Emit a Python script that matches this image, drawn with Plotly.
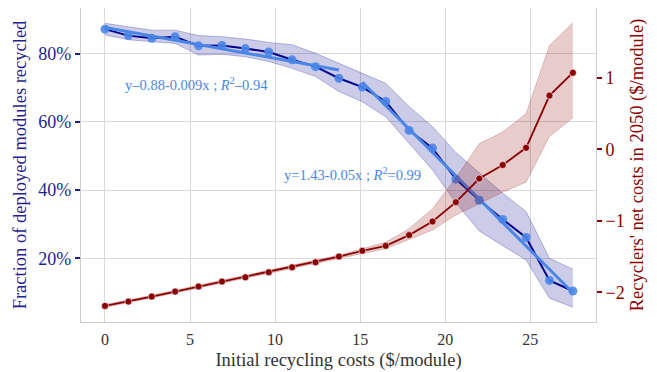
import numpy as np
import plotly.graph_objects as go

# ---------------- data ----------------
init_cost = [0.0, 1.375, 2.75, 4.125, 5.5, 6.875, 8.25, 9.625, 11.0, 12.375, 13.75,
             15.125, 16.5, 17.875, 19.25, 20.625, 22.0, 23.375, 24.75, 26.125, 27.5]

frac_mean = [0.872, 0.853, 0.845, 0.850, 0.823, 0.824, 0.815, 0.805, 0.782, 0.762, 0.728,
             0.702, 0.660, 0.575, 0.523, 0.432, 0.370, 0.314, 0.261, 0.135, 0.104]
frac_low = [0.855, 0.841, 0.835, 0.830, 0.796, 0.798, 0.791, 0.777, 0.757, 0.733, 0.689,
            0.659, 0.615, 0.537, 0.459, 0.363, 0.280, 0.237, 0.195, 0.083, 0.056]
frac_high = [0.889, 0.879, 0.869, 0.869, 0.853, 0.850, 0.843, 0.833, 0.826, 0.801, 0.772,
             0.743, 0.713, 0.645, 0.586, 0.510, 0.449, 0.391, 0.337, 0.200, 0.168]

net_mean = [-2.19, -2.13, -2.06, -1.99, -1.92, -1.85, -1.79, -1.72, -1.65, -1.58, -1.50,
            -1.42, -1.35, -1.20, -1.01, -0.74, -0.41, -0.22, 0.02, 0.75, 1.07]
net_low = [-2.21, -2.15, -2.08, -2.01, -1.94, -1.87, -1.81, -1.74, -1.67, -1.60, -1.53,
           -1.46, -1.39, -1.26, -1.13, -0.92, -0.76, -0.60, -0.46, 0.18, 0.44]
net_high = [-2.17, -2.11, -2.04, -1.97, -1.90, -1.83, -1.77, -1.70, -1.63, -1.56, -1.48,
            -1.39, -1.30, -1.11, -0.83, -0.40, 0.08, 0.24, 0.50, 1.45, 1.77]

# segments used for the two linear fits (index ranges)
fit_segments = [(0, 11), (11, 21)]
fit_labels = ["y\u20130.88-0.009x ; <i>R</i><sup>2</sup>\u20130.94",
              "y=1.43-0.05x ; <i>R</i><sup>2</sup>=0.99"]
label_pos_x = [1.08, 10.4]
label_pos_y = [0.711, 0.447]

left_ticks = [0.2, 0.4, 0.6, 0.8]
right_ticks = [-2, -1, 0, 1]
x_ticks = [0, 5, 10, 15, 20, 25]

# ---------------- style ----------------
FONT = "Liberation Serif"
NAVY = "#00008B"
NAVY_TXT = "#1f1f8f"
DRED = "#8B0000"
LBLUE = "#4a86e8"
GRID = "#d9d9d9"
TITLE_SIZE = 18.5

fig = go.Figure()

x = np.array(init_cost)

# navy band
fig.add_trace(go.Scatter(x=x, y=frac_high, mode="lines",
                         line=dict(color="rgba(0,0,139,0.25)", width=1),
                         showlegend=False, hoverinfo="skip"))
fig.add_trace(go.Scatter(x=x, y=frac_low, mode="lines", fill="tonexty",
                         fillcolor="rgba(0,0,139,0.2)",
                         line=dict(color="rgba(0,0,139,0.25)", width=1),
                         showlegend=False, hoverinfo="skip"))
# navy mean line
fig.add_trace(go.Scatter(x=x, y=frac_mean, mode="lines",
                         line=dict(color=NAVY, width=2), showlegend=False))
# light blue markers
fig.add_trace(go.Scatter(x=x, y=frac_mean, mode="markers",
                         marker=dict(color=LBLUE, size=9, opacity=0.9),
                         showlegend=False))
# linear fits
fm = np.array(frac_mean)
for (a, b) in fit_segments:
    xs = x[a:b]
    coef = np.polyfit(xs, fm[a:b], 1)
    xl = np.array([xs[0], xs[-1]])
    fig.add_trace(go.Scatter(x=xl, y=np.polyval(coef, xl), mode="lines",
                             line=dict(color=LBLUE, width=3), showlegend=False))

# red band + line (right axis)
fig.add_trace(go.Scatter(x=x, y=net_high, mode="lines", yaxis="y2",
                         line=dict(color="rgba(139,0,0,0.2)", width=1),
                         showlegend=False, hoverinfo="skip"))
fig.add_trace(go.Scatter(x=x, y=net_low, mode="lines", yaxis="y2", fill="tonexty",
                         fillcolor="rgba(139,0,0,0.2)",
                         line=dict(color="rgba(139,0,0,0.2)", width=1),
                         showlegend=False, hoverinfo="skip"))
fig.add_trace(go.Scatter(x=x, y=net_mean, mode="lines+markers", yaxis="y2",
                         line=dict(color=DRED, width=1.8),
                         marker=dict(color=DRED, size=7, line=dict(color="white", width=0.6)),
                         showlegend=False))

for txt, lx, ly in zip(fit_labels, label_pos_x, label_pos_y):
    fig.add_annotation(x=lx, y=ly, xref="x", yref="y", text=txt, showarrow=False,
                       xanchor="left", yanchor="middle",
                       font=dict(family=FONT, size=14.5, color=LBLUE))

# page body has an 8px margin; figure placed so the plot area matches the reference
fig.update_layout(
    width=649, height=372,
    margin=dict(l=73, r=61, t=0, b=58),
    paper_bgcolor="white", plot_bgcolor="white",
    font=dict(family=FONT, size=16, color="#333333"),
    xaxis=dict(range=[-1.41, 28.86], tickvals=x_ticks, showgrid=True, gridcolor=GRID,
               gridwidth=1.3, zeroline=False, showline=True, linecolor="#cccccc",
               linewidth=1.3, mirror=True, ticks="", ticklabelstandoff=3,
               tickfont=dict(family=FONT, size=16, color="#333333"),
               title=dict(text="Initial recycling costs ($/module)", standoff=5,
                          font=dict(family=FONT, size=TITLE_SIZE, color="#333333"))),
    yaxis=dict(range=[0.013, 0.934], tickvals=left_ticks, tickformat=".0%",
               showgrid=True, gridcolor=GRID, gridwidth=1.3, zeroline=False,
               showline=True, linecolor="#cccccc", linewidth=1.3, mirror=True,
               ticks="outside", ticklen=5, tickwidth=1.5, tickcolor=NAVY_TXT,
               tickfont=dict(family=FONT, size=18, color=NAVY_TXT),
               title=dict(text="Fraction of deployed modules recycled", standoff=6,
                          font=dict(family=FONT, size=TITLE_SIZE, color=NAVY_TXT))),
    yaxis2=dict(range=[-2.415, 1.975], tickvals=right_ticks, overlaying="y", side="right",
                showgrid=False, zeroline=False, showline=False,
                ticks="outside", ticklen=5, tickwidth=1.5, tickcolor=DRED,
                tickfont=dict(family=FONT, size=18, color=DRED),
                title=dict(text="Recyclers' net costs in 2050 ($/module)", standoff=6,
                           font=dict(family=FONT, size=TITLE_SIZE, color=DRED))),
)

fig.write_html("out.html")
